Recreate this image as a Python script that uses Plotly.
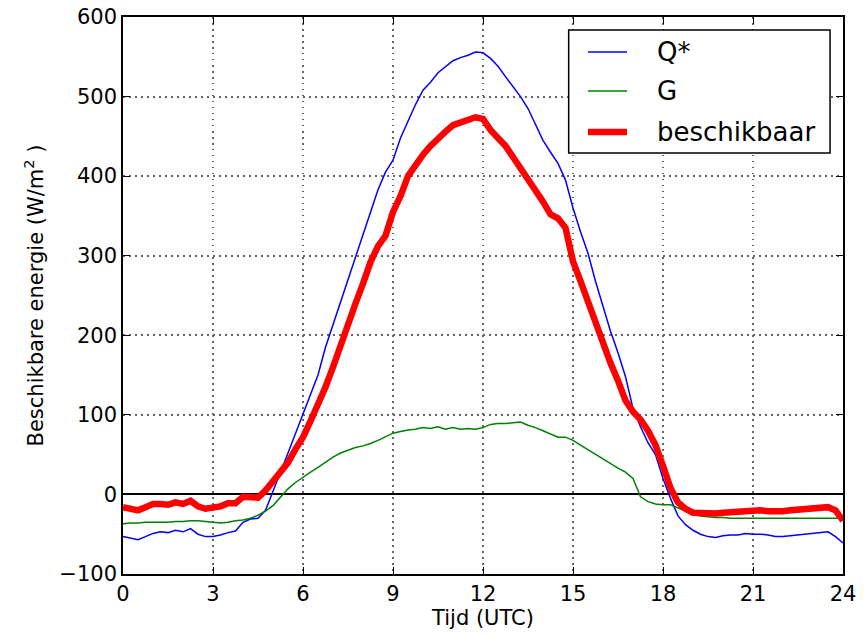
import plotly.graph_objects as go

hours = [i * 0.25 for i in range(97)]

q_star = [-53, -55, -57, -53, -49, -47, -48, -45, -47, -43, -50, -53, -53, -51, -48, -46,
          -35, -31, -30, -20, 5, 28, 52, 76, 101, 126, 150, 185, 213, 243, 270, 298,
          325, 355, 383, 405, 420, 448, 470, 490, 508, 518, 530, 538, 545, 549, 552, 556,
          555, 548, 538, 525, 512, 500, 485, 465, 445, 430, 416, 395, 360, 330, 303, 268,
          235, 205, 178, 148, 108, 85, 65, 50, 20, -5, -27, -38, -45, -50, -53, -54,
          -52, -51, -51, -49, -50, -50, -51, -53, -53, -52, -51, -50, -49, -48, -47, -53, -61]

g_flux = [-37, -36, -36, -35, -35, -35, -35, -34, -34, -33, -33, -34, -35, -36, -35, -33,
          -32, -30, -26, -21, -14, -3, 7, 15, 22, 28, 34, 41, 47, 52, 56, 59,
          61, 64, 68, 73, 77, 79, 81, 82, 84, 83, 85, 82, 84, 82, 83, 82,
          84, 88, 89, 89, 90, 91, 87, 84, 80, 76, 72, 72, 68, 62, 56, 50,
          44, 38, 33, 28, 20, -3, -9, -12, -13, -13, -17, -22, -25, -27, -28, -29,
          -29, -30, -30, -30, -30, -30, -30, -30, -30, -30, -30, -30, -30, -30, -30, -30, -29]

beschikbaar = [-16, -18, -20, -16, -12, -12, -13, -10, -12, -8, -15, -18, -17, -15, -11, -11,
               -3, -3, -4, 5, 17, 28, 40, 57, 72, 92, 112, 135, 160, 188, 215, 240,
               265, 292, 312, 325, 355, 375, 400, 415, 427, 438, 448, 456, 464, 467, 470, 474,
               472, 458, 448, 438, 424, 410, 396, 385, 368, 352, 347, 335, 293, 268, 242, 214,
               190, 165, 143, 118, 104, 94, 80, 62, 36, 8, -10, -18, -23, -24, -25, -24,
               -23, -22, -22, -21, -21, -20, -21, -22, -21, -20, -19, -18, -17, -16, -16, -20, -33]

x_ticks = [0, 3, 6, 9, 12, 15, 18, 21, 24]
y_ticks = [-100, 0, 100, 200, 300, 400, 500, 600]

series_names = ["Q*", "G", "beschikbaar"]
series_colors = ["#0000ff", "#008000", "#ff0000"]
series_widths = [1.5, 1.5, 6.5]

font_family = "DejaVu Sans"

fig = go.Figure()
for name, vals, col, w in zip(series_names, [q_star, g_flux, beschikbaar], series_colors, series_widths):
    fig.add_trace(go.Scatter(x=hours, y=vals, mode="lines", name=name,
                             line=dict(color=col, width=w), showlegend=False))

axis_common = dict(
    showline=True, linecolor="black", linewidth=1.5, mirror="allticks",
    ticks="inside", ticklen=7, tickwidth=1, tickcolor="black",
    showgrid=True, gridcolor="#666666", griddash="1.5px,4.5px", gridwidth=1.5,
    tickfont=dict(family=font_family, size=21, color="black"),
    automargin=False,
)

fig.update_xaxes(range=[0, 24], tickvals=x_ticks, zeroline=False,
                 title=dict(text="Tijd (UTC)", font=dict(family=font_family, size=21, color="black"),
                            standoff=0),
                 **axis_common)
fig.update_yaxes(range=[-100, 600], tickvals=y_ticks, zeroline=True,
                 zerolinecolor="black", zerolinewidth=2,
                 title=dict(text="Beschikbare energie (W/m<sup>2</sup> )",
                            font=dict(family=font_family, size=21, color="black"), standoff=10),
                 **axis_common)

# legend box drawn manually (matplotlib-style)
leg_x0, leg_x1, leg_y0, leg_y1 = 0.619, 0.982, 0.7558, 0.9767
fig.add_shape(type="rect", xref="paper", yref="paper", x0=leg_x0, x1=leg_x1, y0=leg_y0, y1=leg_y1,
              line=dict(color="black", width=1.5), fillcolor="white", layer="above")
row_y = [0.9372, 0.8672, 0.7935]
for name, col, w, ry in zip(series_names, series_colors, series_widths, row_y):
    fig.add_shape(type="line", xref="paper", yref="paper", x0=0.6458, x1=0.7, y0=ry, y1=ry,
                  line=dict(color=col, width=w), layer="above")
    fig.add_annotation(xref="paper", yref="paper", x=0.7389, y=ry, text=name, showarrow=False,
                       xanchor="left", yanchor="middle",
                       font=dict(family=font_family, size=26, color="black"))

fig.update_layout(
    width=867, height=635,
    margin=dict(l=123, r=24, t=17, b=61),
    plot_bgcolor="white", paper_bgcolor="white",
    font=dict(family=font_family, color="black"),
    showlegend=False,
)

fig.write_html("out.html")
